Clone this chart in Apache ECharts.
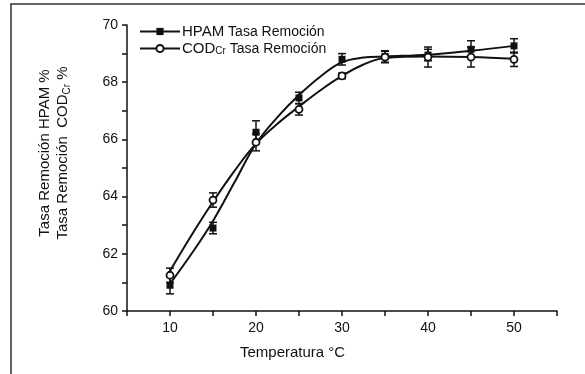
<!DOCTYPE html>
<html>
<head>
<meta charset="utf-8">
<script src="https://cdn.jsdelivr.net/npm/echarts@6/dist/echarts.min.js"></script>
<style>html,body{margin:0;padding:0;background:#fff}#c{width:585px;height:374px}</style>
</head>
<body>
<div id="c"></div>
<script>
// measured points
var temperatures = [10, 15, 20, 25, 30, 35, 40, 45, 50];
var hpamValues = [60.9, 62.9, 66.25, 67.45, 68.8, 68.9, 68.95, 69.15, 69.27];
var hpamErrors = [0.3, 0.2, 0.4, 0.2, 0.2, 0.2, 0.2, 0.3, 0.25];
var codValues = [61.25, 63.88, 65.9, 67.05, 68.22, 68.88, 68.88, 68.88, 68.8];
var codErrors = [0.25, 0.25, 0.3, 0.2, 0.1, 0.2, 0.35, 0.35, 0.25];
// fitted curves
var fitTemps = [10, 12.5, 15, 17.5, 20, 22.5, 25, 27.5, 30, 32.5, 35, 40, 45, 50];
var hpamFit = [60.95, 62.0, 63.15, 64.5, 65.85, 66.78, 67.55, 68.2, 68.7, 68.86, 68.9, 68.96, 69.1, 69.27];
var codFit = [61.4, 62.65, 63.82, 64.9, 65.85, 66.55, 67.15, 67.72, 68.22, 68.62, 68.85, 68.9, 68.88, 68.82];
var yTicks = [60, 62, 64, 66, 68, 70];
var xTicks = [10, 20, 30, 40, 50];

var chart = echarts.init(document.getElementById('c'));
var FONT = 'Liberation Sans, Arial, sans-serif';

function pairs(xs, ys) { return xs.map(function (x, i) { return [x, ys[i]]; }); }
function errData(xs, ys, es) { return xs.map(function (x, i) { return [x, ys[i] - es[i], ys[i] + es[i]]; }); }

function errRender(params, api) {
  var x = api.value(0);
  var lo = api.coord([x, api.value(1)]);
  var hi = api.coord([x, api.value(2)]);
  var w = 4;
  var st = { stroke: '#111', lineWidth: 1.5 };
  return {
    type: 'group',
    children: [
      { type: 'line', shape: { x1: lo[0], y1: lo[1], x2: hi[0], y2: hi[1] }, style: st },
      { type: 'line', shape: { x1: lo[0] - w, y1: lo[1], x2: lo[0] + w, y2: lo[1] }, style: st },
      { type: 'line', shape: { x1: hi[0] - w, y1: hi[1], x2: hi[0] + w, y2: hi[1] }, style: st }
    ]
  };
}

var option = {
  backgroundColor: '#fff',
  animation: false,
  textStyle: { fontFamily: FONT },
  graphic: [
    { type: 'rect', shape: { x: 11, y: 4, width: 600, height: 400 }, style: { fill: 'none', stroke: '#333', lineWidth: 1.5 }, silent: true },
    { type: 'text', left: 240, top: 345, style: { text: 'Temperatura °C', font: '15px ' + FONT, fill: '#111' }, silent: true },
    {
      type: 'text', x: 54, y: 153, rotation: Math.PI / 2, silent: true,
      style: {
        text: 'Tasa Remoción HPAM %\nTasa Remoción  COD{s|Cr} %',
        font: '15px ' + FONT, fill: '#111', align: 'center', verticalAlign: 'middle', lineHeight: 18,
        rich: { s: { fontSize: 10, fontFamily: FONT, fill: '#111', verticalAlign: 'bottom' } }
      }
    }
  ],
  grid: { left: 127, right: 28, top: 25, bottom: 63 },
  legend: {
    left: 134, top: 19, orient: 'vertical', itemGap: 2, itemWidth: 40, itemHeight: 9,
    data: ['HPAM', 'COD'],
    formatter: function (n) {
      if (n === 'HPAM') return '{a|HPAM}{b| Tasa Remoción}';
      return '{a|COD}{s|Cr}{b| Tasa Remoción}';
    },
    textStyle: {
      color: '#111', padding: [0, 0, 0, -3],
      rich: {
        a: { fontSize: 15, fontFamily: FONT, color: '#111', verticalAlign: 'bottom', lineHeight: 15 },
        b: { fontSize: 14, fontFamily: FONT, color: '#111', verticalAlign: 'bottom', lineHeight: 13 },
        s: { fontSize: 10, fontFamily: FONT, color: '#111', verticalAlign: 'bottom', lineHeight: 9 }
      }
    }
  },
  xAxis: {
    type: 'value', min: 5, max: 55, interval: 5,
    axisLine: { lineStyle: { color: '#111', width: 1.5 } },
    axisTick: { inside: false, length: 5, lineStyle: { color: '#111', width: 1.5 } },
    axisLabel: {
      fontSize: 14, color: '#111', margin: 10,
      formatter: function (v) { return xTicks.indexOf(v) >= 0 ? String(v) : ''; }
    },
    splitLine: { show: false }
  },
  yAxis: {
    type: 'value', min: 60, max: 70, interval: 1,
    axisLine: { show: true, lineStyle: { color: '#111', width: 1.5 } },
    axisTick: { inside: false, length: 5, lineStyle: { color: '#111', width: 1.5 } },
    axisLabel: {
      fontSize: 14, color: '#111', margin: 9,
      formatter: function (v) { return yTicks.indexOf(v) >= 0 ? String(v) : ''; }
    },
    splitLine: { show: false }
  },
  series: [
    {
      name: 'HPAM', type: 'line', smooth: 0.4, data: pairs(fitTemps, hpamFit),
      symbol: 'rect', symbolSize: 7, showSymbol: false, z: 3,
      lineStyle: { color: '#111', width: 2 },
      itemStyle: { color: '#111', borderColor: '#111', borderWidth: 0 }
    },
    {
      name: 'COD', type: 'line', smooth: 0.4, data: pairs(fitTemps, codFit),
      symbol: 'circle', symbolSize: 7, showSymbol: false, z: 3,
      lineStyle: { color: '#111', width: 2 },
      itemStyle: { color: '#fff', borderColor: '#111', borderWidth: 1.8 }
    },
    {
      name: 'HPAM', type: 'scatter', data: pairs(temperatures, hpamValues),
      symbol: 'rect', symbolSize: 7, z: 6,
      itemStyle: { color: '#111', opacity: 1 }
    },
    {
      name: 'COD', type: 'scatter', data: pairs(temperatures, codValues),
      symbol: 'circle', symbolSize: 7, z: 7,
      itemStyle: { color: '#fff', borderColor: '#111', borderWidth: 1.8, opacity: 1 }
    },
    {
      type: 'custom', renderItem: errRender, data: errData(temperatures, hpamValues, hpamErrors),
      encode: { x: 0, y: [1, 2] }, z: 4, silent: true
    },
    {
      type: 'custom', renderItem: errRender, data: errData(temperatures, codValues, codErrors),
      encode: { x: 0, y: [1, 2] }, z: 4, silent: true
    }
  ]
};
chart.setOption(option);
</script>
</body>
</html>
